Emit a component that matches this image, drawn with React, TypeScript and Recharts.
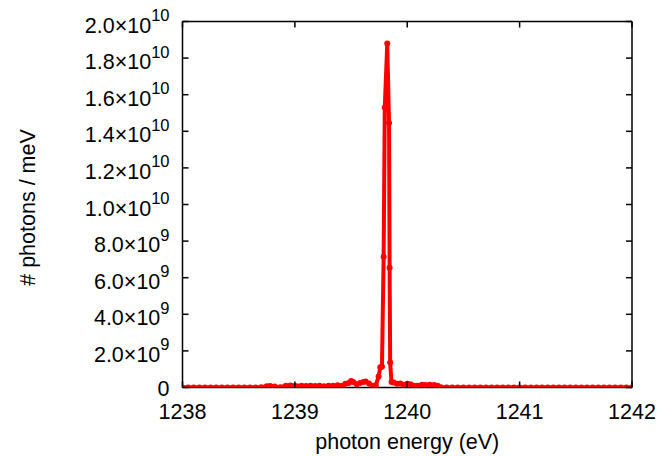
import { LineChart, Line, XAxis, YAxis } from 'recharts';

document.body.style.margin = '0';

const FONT = '"Liberation Sans", Arial, Helvetica, sans-serif';
const RED = '#f00';

// photon energy (eV)
const energy = [
  1238.0, 1238.05, 1238.1, 1238.15, 1238.2, 1238.25, 1238.3, 1238.35, 1238.4, 1238.45,
  1238.5, 1238.55, 1238.6, 1238.65, 1238.7, 1238.75, 1238.78, 1238.82, 1238.87, 1238.92,
  1238.96, 1239.0, 1239.03, 1239.06, 1239.1, 1239.14, 1239.18, 1239.22, 1239.26, 1239.3,
  1239.34, 1239.38, 1239.42, 1239.45, 1239.48, 1239.5, 1239.52, 1239.55, 1239.58, 1239.61,
  1239.63, 1239.66, 1239.69, 1239.72, 1239.745, 1239.76, 1239.775, 1239.79, 1239.8, 1239.822,
  1239.838, 1239.843, 1239.848, 1239.86, 1239.88, 1239.91, 1239.94, 1239.97, 1240.0, 1240.03,
  1240.06, 1240.09, 1240.13, 1240.16, 1240.2, 1240.24, 1240.27, 1240.3, 1240.35, 1240.4,
  1240.45, 1240.5, 1240.55, 1240.6, 1240.65, 1240.7, 1240.75, 1240.8, 1240.85, 1240.9,
  1240.95, 1241.0, 1241.05, 1241.1, 1241.15, 1241.2, 1241.25, 1241.3, 1241.35, 1241.4,
  1241.45, 1241.5, 1241.55, 1241.6, 1241.65, 1241.7, 1241.75, 1241.8, 1241.85, 1241.9,
  1241.95, 1242.0,
];

// # photons / meV, in units of 1e9
const photons = [
  0, 0, 0, 0, 0, 0, 0, 0, 0, 0,
  0, 0, 0, 0, 0.01, 0.07, 0.08, 0.06, 0.02, 0.1,
  0.11, 0.1, 0.05, 0.1, 0.08, 0.09, 0.08, 0.09, 0.07, 0.1,
  0.09, 0.12, 0.1, 0.2, 0.25, 0.35, 0.3, 0.18, 0.25, 0.3,
  0.33, 0.22, 0.1, 0.12, 0.6, 1.1, 1.14, 7.15, 15.3, 18.8,
  14.45, 6.55, 1.36, 0.3, 0.28, 0.2, 0.22, 0.15, 0.2, 0.18,
  0.1, 0.1, 0.15, 0.14, 0.15, 0.14, 0.1, 0.02, 0, 0,
  0, 0, 0, 0, 0, 0, 0, 0, 0, 0,
  0, 0, 0, 0, 0, 0, 0, 0, 0, 0,
  0, 0, 0, 0, 0, 0, 0, 0, 0, 0,
  0, 0,
];

const xTicks = [1238, 1239, 1240, 1241, 1242];
const yTicks = [0, 2e9, 4e9, 6e9, 8e9, 1e10, 1.2e10, 1.4e10, 1.6e10, 1.8e10, 2e10];

const data = energy.map((e, i) => ({ e, n: photons[i] * 1e9 }));

const BottomTick = ({ x, y, payload }: any) => (
  <g>
    <line x1={x} x2={x} y1={y} y2={y - 6} stroke="#000" strokeWidth={1.5} />
    <text x={x} y={y + 31} textAnchor="middle" fontSize={21.5} fontFamily={FONT} fill="#000">
      {payload.value}
    </text>
  </g>
);

const TopTick = ({ x, y }: any) => (
  <line x1={x} x2={x} y1={y} y2={y + 6} stroke="#000" strokeWidth={1.5} />
);

const LeftTick = ({ x, y, payload }: any) => {
  const v = payload.value;
  let label: any;
  if (v === 0) {
    label = (
      <text x={x - 13} y={y + 8} textAnchor="end" fontSize={21.5} fontFamily={FONT} fill="#000">0</text>
    );
  } else {
    const exp = Math.floor(Math.log10(v) + 1e-9);
    const mant = (v / Math.pow(10, exp)).toFixed(1);
    label = (
      <text x={x - 13} y={y + 11} textAnchor="end" fontSize={21.5} fontFamily={FONT} fill="#000">
        {mant}×10
        <tspan dy={-11.5} fontSize={16.5}>{exp}</tspan>
      </text>
    );
  }
  return (
    <g>
      <line x1={x} x2={x + 6} y1={y} y2={y} stroke="#000" strokeWidth={1.5} />
      {label}
    </g>
  );
};

const RightTick = ({ x, y }: any) => (
  <line x1={x} x2={x - 6} y1={y} y2={y} stroke="#000" strokeWidth={1.5} />
);

const XLabel = ({ viewBox }: any) => (
  <text
    x={viewBox.x + viewBox.width / 2}
    y={viewBox.y + 61.5}
    textAnchor="middle"
    fontSize={21.5}
    fontFamily={FONT}
    fill="#000"
  >
    photon energy (eV)
  </text>
);

const YLabel = ({ viewBox }: any) => {
  const cx = viewBox.x + 35;
  const cy = viewBox.y + viewBox.height / 2 + 3;
  return (
    <text
      x={cx}
      y={cy}
      transform={`rotate(-90 ${cx} ${cy})`}
      textAnchor="middle"
      fontSize={21.5}
      fontFamily={FONT}
      fill="#000"
    >
      # photons / meV
    </text>
  );
};

const axisLine = { stroke: '#000', strokeWidth: 1.5 };

export default function App() {
  return (
    <LineChart width={663} height={456} data={data} margin={{ top: 0, right: 0, bottom: 0, left: 0 }}>
      <XAxis
        xAxisId="b"
        dataKey="e"
        type="number"
        domain={[1238, 1242]}
        ticks={xTicks}
        orientation="bottom"
        height={68.5}
        tickSize={0}
        tickMargin={0}
        tickLine={false}
        axisLine={axisLine}
        tick={<BottomTick />}
        interval={0}
        label={<XLabel />}
        allowDataOverflow
      />
      <XAxis
        xAxisId="t"
        dataKey="e"
        type="number"
        domain={[1238, 1242]}
        ticks={xTicks}
        orientation="top"
        height={21.5}
        tickSize={0}
        tickMargin={0}
        tickLine={false}
        axisLine={axisLine}
        tick={<TopTick />}
        interval={0}
        allowDataOverflow
      />
      <YAxis
        yAxisId="l"
        type="number"
        domain={[0, 2e10]}
        ticks={yTicks}
        orientation="left"
        width={182.5}
        tickSize={0}
        tickMargin={0}
        tickLine={false}
        axisLine={axisLine}
        tick={<LeftTick />}
        interval={0}
        label={<YLabel />}
        allowDataOverflow
      />
      <YAxis
        yAxisId="r"
        type="number"
        domain={[0, 2e10]}
        ticks={yTicks}
        orientation="right"
        width={31}
        tickSize={0}
        tickMargin={0}
        tickLine={false}
        axisLine={axisLine}
        tick={<RightTick />}
        interval={0}
        allowDataOverflow
      />
      <Line
        xAxisId="b"
        yAxisId="l"
        dataKey="n"
        type="linear"
        stroke={RED}
        strokeWidth={4}
        dot={{ r: 3, fill: RED, stroke: RED, strokeWidth: 0 }}
        isAnimationActive={false}
      />
    </LineChart>
  );
}
